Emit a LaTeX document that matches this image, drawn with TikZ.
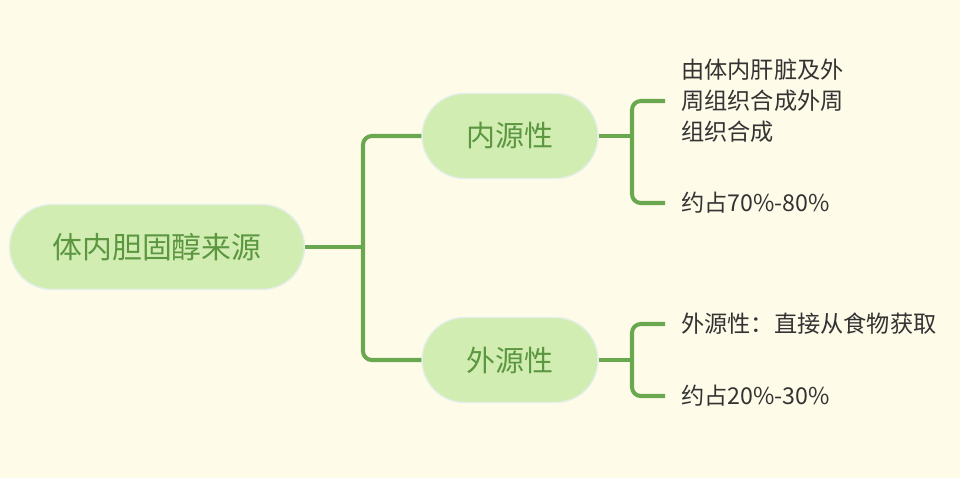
\documentclass[tikz,border=0pt]{standalone}
\usepackage{fontspec}
\setmainfont{Noto Sans CJK SC}
\definecolor{bgcream}{HTML}{FFFBE9}
\definecolor{pillfill}{HTML}{D2EDB2}
\definecolor{pillrim}{HTML}{E4EEEA}
\definecolor{pilltext}{HTML}{5B9640}
\definecolor{linkgreen}{HTML}{6AA84F}
\definecolor{leaftext}{HTML}{333333}
\begin{document}
\begin{tikzpicture}[x=0.02cm, y=-0.02cm,
    pill/.style={draw=pillrim, line width=0.8pt, fill=pillfill, text=pilltext,
      minimum height=1.7cm, rounded corners=0.85cm, inner sep=0pt},
    leaf/.style={anchor=west, text=leaftext, font=\fontsize{13.2}{17.6}\selectfont,
      align=left, inner xsep=0.32cm, inner ysep=0pt},
    link/.style={draw=linkgreen, line width=2.3pt, rounded corners=5pt}]
  % background and page size
  \fill[bgcream] (0,0) rectangle (960,478);
  \useasboundingbox (0,0) rectangle (960,478);

  % root and the two sources
  \node[pill, minimum width=5.9cm, font=\fontsize{17}{20}\selectfont] (root) at (157,247) {体内胆固醇来源};
  \node[pill, minimum width=3.52cm, font=\fontsize{16.5}{20}\selectfont] (endo) at (510,136) {内源性};
  \node[pill, minimum width=3.52cm, font=\fontsize{16.5}{20}\selectfont] (exo) at (510,360) {外源性};

  % leaves
  \node[leaf] (endoA) at (665,101) {由体内肝脏及外\\周组织合成外周\\组织合成};
  \node[leaf] (endoB) at (665,203) {约占70\%-80\%};
  \node[leaf] (exoA) at (665,324) {外源性：直接从食物获取};
  \node[leaf] (exoB) at (665,396) {约占20\%-30\%};

  % forks
  \coordinate (forkRoot) at (363,247);
  \coordinate (forkEndo) at (632,136);
  \coordinate (forkExo) at (632,360);

  \draw[link] (root.east) -- (forkRoot);
  \draw[link] (endo.west) -| (forkRoot) |- (exo.west);
  \draw[link] (endo.east) -- (forkEndo);
  \draw[link] (endoA.west) -| (forkEndo) |- (endoB.west);
  \draw[link] (exo.east) -- (forkExo);
  \draw[link] (exoA.west) -| (forkExo) |- (exoB.west);
\end{tikzpicture}
\end{document}
